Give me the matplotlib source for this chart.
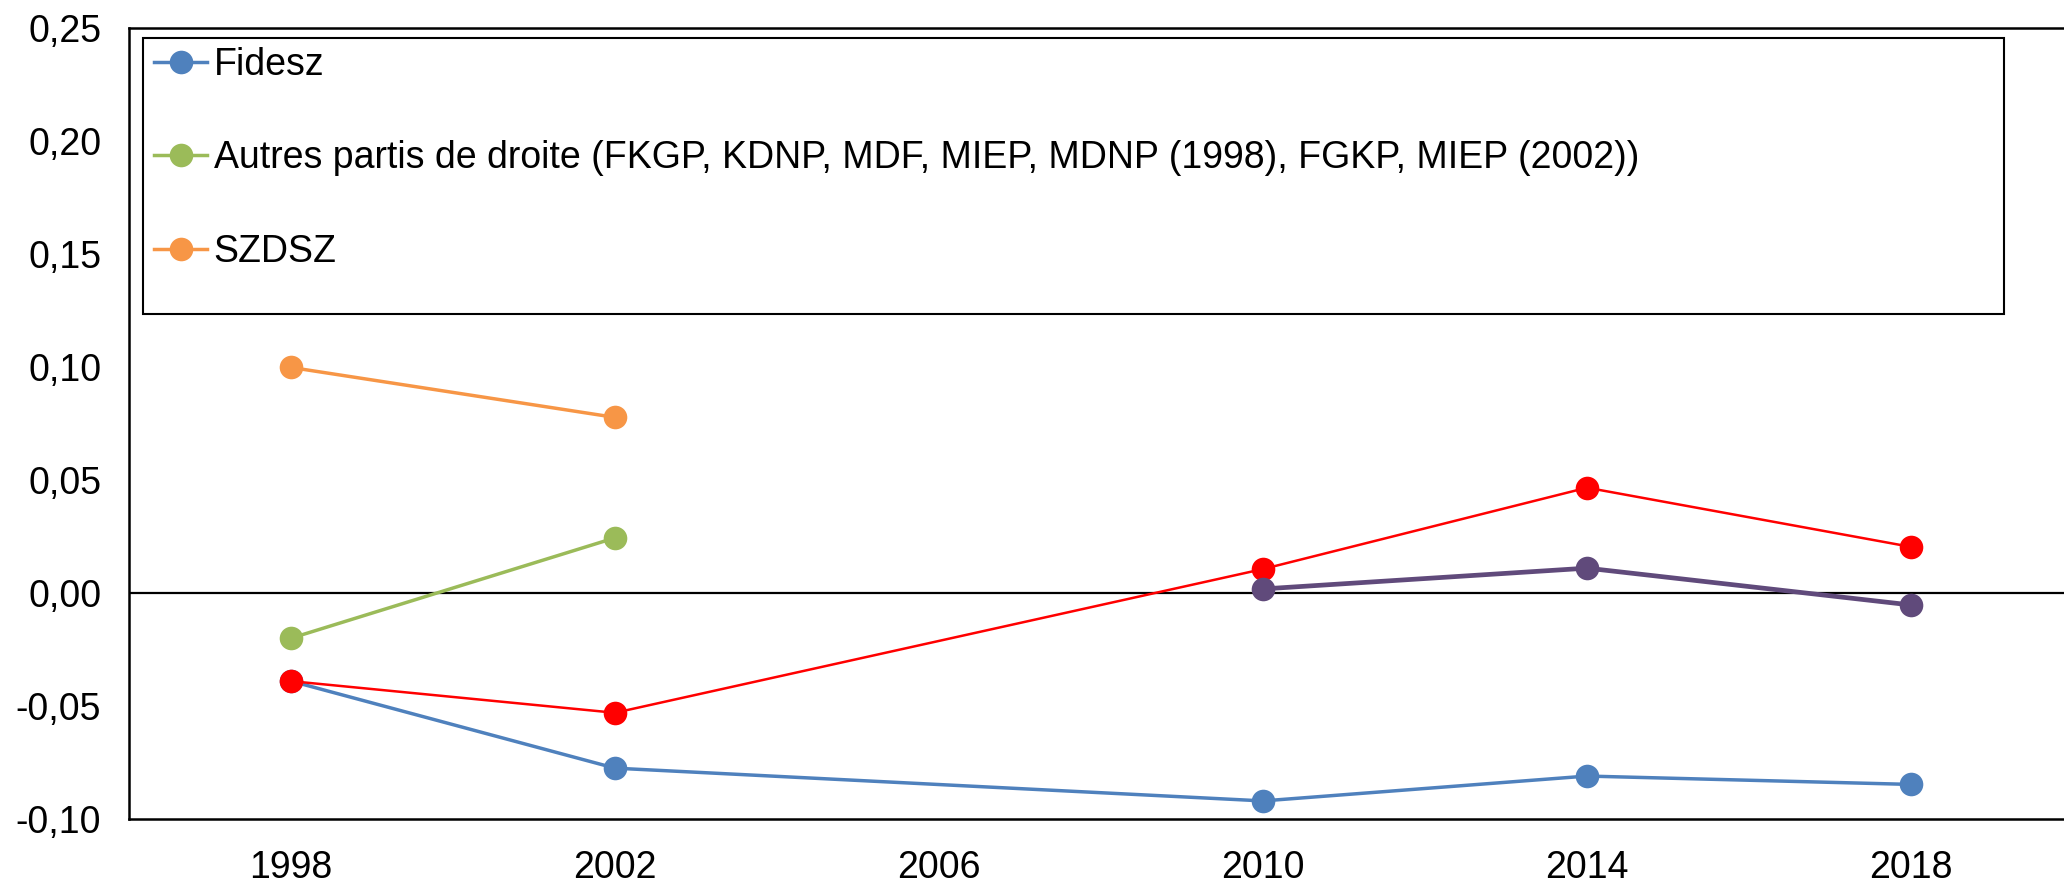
import matplotlib
matplotlib.use("Agg")
import matplotlib.pyplot as plt
import numpy as np
from matplotlib.patches import Rectangle
from matplotlib.ticker import FuncFormatter

plt.rcParams['font.family'] = ['Liberation Sans', 'DejaVu Sans']

years = ['1998', '2002', '2006', '2010', '2014', '2018']
fidesz = [-0.039, -0.0775, None, -0.092, -0.081, -0.0847]
autres_droite = [-0.020, 0.0244, None, None, None, None]
szdsz = [0.0998, 0.0777, None, None, None, None]
red_series = [-0.039, -0.053, None, 0.0106, 0.0466, 0.0204]
purple_series = [None, None, None, 0.0018, 0.011, -0.0053]

labels = ['Fidesz',
          'Autres partis de droite (FKGP, KDNP, MDF, MIEP, MDNP (1998), FGKP, MIEP (2002))',
          'SZDSZ']

W, H = 2064, 883
fig = plt.figure(figsize=(W / 100, H / 100), dpi=100)
ax = fig.add_axes([129 / W, (H - 819) / H, 1944 / W, (819 - 28) / H])

def plot_series(vals, color, lw, label=None, z=2):
    x = [i for i, v in enumerate(vals) if v is not None]
    y = [v for v in vals if v is not None]
    return ax.plot(x, y, color=color, lw=lw, marker='o', ms=17,
                   markeredgewidth=0, label=label, zorder=z)[0]

h1 = plot_series(fidesz, '#4F81BD', 2.5, labels[0], 3)
h2 = plot_series(autres_droite, '#9BBB59', 2.5, labels[1], 3)
h3 = plot_series(szdsz, '#F79646', 2.5, labels[2], 3)
plot_series(red_series, '#FF0000', 1.8, None, 4)
plot_series(purple_series, '#604A7B', 3.4, None, 5)

ax.axhline(0, color='black', lw=1.6, zorder=2)

ax.set_xlim(-0.5, 5.5)
ax.set_ylim(-0.10, 0.25)
ax.set_xticks(range(len(years)))
ax.set_xticklabels(years)
ax.set_yticks(np.arange(-0.10, 0.2501, 0.05))
ax.yaxis.set_major_formatter(FuncFormatter(lambda v, p: f"{v:.2f}".replace('.', ',').replace('-0,00', '0,00')))
ax.tick_params(axis='both', length=0, labelsize=27, colors='black')
ax.tick_params(axis='x', pad=22)
ax.tick_params(axis='y', pad=20)
for s in ax.spines.values():
    s.set_linewidth(1.8)
    s.set_color('black')

# legend frame
fig.patches.append(Rectangle((143 / W, (H - 314) / H), (2004 - 143) / W, (314 - 38) / H,
                             transform=fig.transFigure, fill=False, edgecolor='black',
                             lw=1.5, zorder=10))
leg = fig.legend(handles=[h1, h2, h3], loc='upper left',
                 bbox_to_anchor=(154 / W, (H - 47) / H), frameon=False,
                 fontsize=27, handlelength=1.42, handletextpad=0.17,
                 labelspacing=1.53, borderaxespad=0, borderpad=0)

fig.savefig('out.png', dpi=100)
